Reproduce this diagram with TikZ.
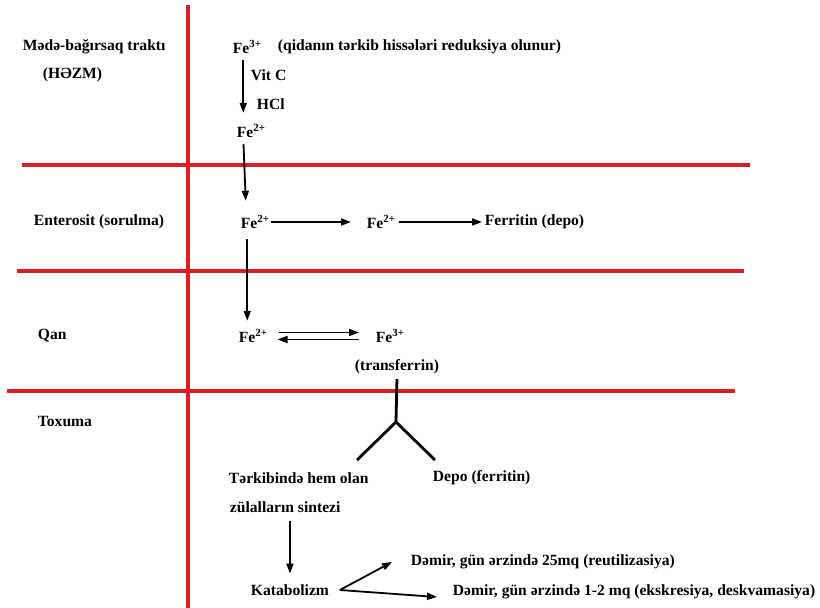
\documentclass[tikz,border=0pt]{standalone}
\usepackage{fontspec}
\setmainfont{Liberation Serif}
\usetikzlibrary{arrows.meta}

\definecolor{zonered}{RGB}{222,28,34}

\tikzset{
  lbl/.style={anchor=west, inner sep=0.75pt, font=\bfseries\fontsize{15.6}{18}\selectfont},
  zone/.style={draw=zonered, line width=3.4pt},
  arr/.style={-{Triangle[length=10pt,width=7pt]}, line width=1.8pt},
  fork/.style={line width=2.8pt}
}

\begin{document}
\begin{tikzpicture}[x=1pt,y=-1pt]
\useasboundingbox (0,0) rectangle (820,608);

% zones
\draw[zone] (188,5) -- (188,608);
\draw[zone] (22,165) -- (750,165);
\draw[zone] (17,271) -- (744,271);
\draw[zone] (7,391) -- (735,391);

% Text Node
\node[lbl] (gi) at (22,47) {Mədə-bağırsaq traktı};
\node[lbl] (hezm) at (42,75) {(HƏZM)};
\node[lbl] (fe3a) at (232,47) {Fe\textsuperscript{3+}};
\node[lbl] (qida) at (277,47) {(qidanın tərkib hissələri reduksiya olunur)};
\node[lbl] (vitc) at (250,75) {Vit C};
\node[lbl] (hcl) at (256,104) {HCl};
\node[lbl] (fe2a) at (236,131) {Fe\textsuperscript{2+}};
% Text Node
\node[lbl] (ent) at (33,222) {Enterosit (sorulma)};
\node[lbl] (fe2b) at (240,222) {Fe\textsuperscript{2+}};
\node[lbl] (fe2c) at (366,222) {Fe\textsuperscript{2+}};
\node[lbl] (ferr) at (484,222) {Ferritin (depo)};
% Text Node
\node[lbl] (qan) at (37,336) {Qan};
\node[lbl] (fe2d) at (238,336) {Fe\textsuperscript{2+}};
\node[lbl] (fe3b) at (375,336) {Fe\textsuperscript{3+}};
\node[lbl] (trans) at (354,367) {(transferrin)};
% Text Node
\node[lbl] (tox) at (37,421) {Toxuma};
\node[lbl] (hem) at (228,478) {Tərkibində hem olan};
\node[lbl] (depo) at (432,478) {Depo (ferritin)};
\node[lbl] (zul) at (229,507) {zülalların sintezi};
\node[lbl] (kat) at (250,590) {Katabolizm};
\node[lbl] (d25) at (410,562) {Dəmir, gün ərzində 25mq (reutilizasiya)};
\node[lbl] (d12) at (452,592) {Dəmir, gün ərzində 1-2 mq (ekskresiya, deskvamasiya)};

% arrows
\draw[arr, shorten <=6pt, shorten >=11pt] ([xshift=-4pt]fe3a.south) -- ([xshift=-4pt]fe3a.south |- fe2a.north);
\draw[arr, shorten <=6pt, shorten >=14pt] ([xshift=-8pt]fe2a.south) -- ([xshift=-9pt]fe2b.north);
\draw[arr, shorten >=15pt] (fe2b.east) -- (fe2c.west);
\draw[arr, shorten <=2pt, shorten >=2pt] (fe2c.east) -- (ferr.west);
\draw[arr, shorten <=10pt, shorten >=8pt] ([xshift=-8pt]fe2b.south) -- ([xshift=-6pt]fe2d.north);
\draw[arr, shorten <=10pt, shorten >=16pt] ([yshift=3.5pt]fe2d.east) -- ([yshift=3.5pt]fe3b.west);
\draw[arr, shorten <=16pt, shorten >=9pt] ([yshift=-3.5pt]fe3b.west) -- ([yshift=-3.5pt]fe2d.east);

% fork
\coordinate (fork) at (396,422);
\coordinate (forkl) at (357,460);
\coordinate (forkr) at (435,460);
\draw[fork] ([yshift=-4pt]trans.south) -- (fork);
\draw[fork] (forkl) -- (fork) -- (forkr);

\draw[arr, shorten <=8pt, shorten >=10pt] (zul.south -| kat.north) -- (kat.north);
\coordinate (katout) at ([xshift=10pt]kat.east);
\draw[arr] (katout) -- ([xshift=-18pt]d25.west);
\draw[arr] (katout) -- ([xshift=-15pt,yshift=-5pt]d12.west);

\end{tikzpicture}
\end{document}
